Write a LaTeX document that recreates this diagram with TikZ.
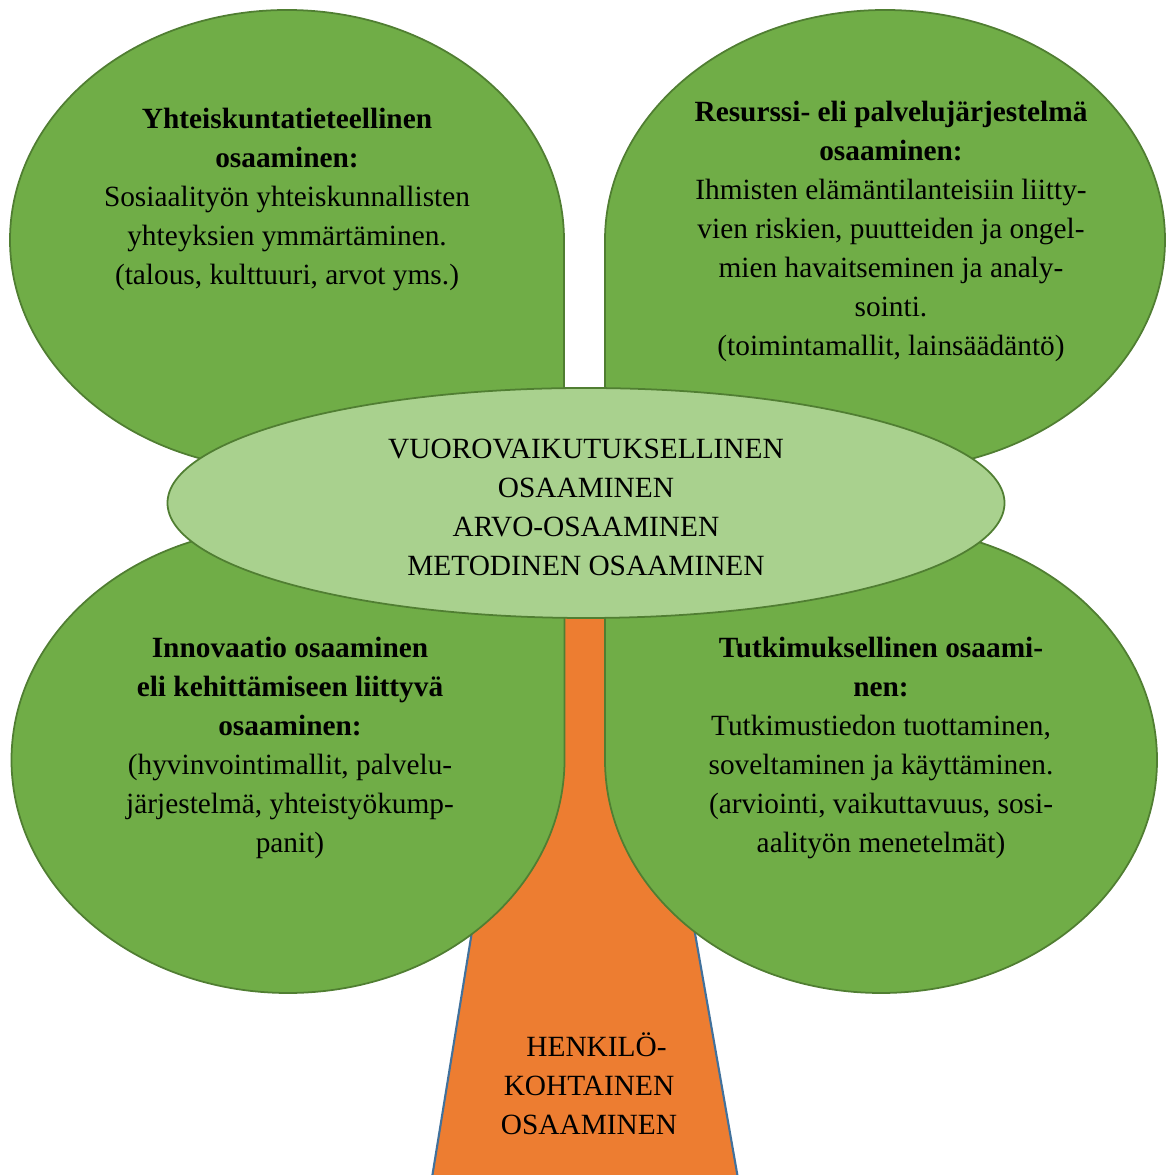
\documentclass[tikz,border=0pt]{standalone}
\usepackage{fontspec}
\setmainfont{Liberation Serif}
\usetikzlibrary{shapes.geometric}

\definecolor{leafgreen}{HTML}{70AD47}
\definecolor{leafedge}{HTML}{507E32}
\definecolor{coregreen}{HTML}{A9D18E}
\definecolor{barkorange}{HTML}{ED7D31}
\definecolor{barkedge}{HTML}{41719C}

\tikzset{
  leaf/.style  = {fill=leafgreen, draw=leafedge, line width=1pt},
  trunk/.style = {fill=barkorange, draw=barkedge, line width=1.2pt},
  core/.style  = {ellipse, fill=coregreen, draw=leafedge, line width=1pt,
                  minimum width=16.74cm, minimum height=4.6cm, inner sep=0pt,
                  align=center, font=\fontsize{16.7}{22.2}\selectfont},
  txt/.style   = {align=center, inner sep=0pt, font=\fontsize{16.7}{22.2}\selectfont}
}

\begin{document}
\begin{tikzpicture}
    \useasboundingbox (0,0) rectangle (23.34,23.5);

    % trunk, partly hidden behind the leaves
    \draw[trunk] (8.60,-0.3) -- (10.84,13.5) -- (12.38,13.5) -- (14.80,-0.3) -- cycle;

    % the four leaves, each with a square corner towards the middle
    \draw[leaf] (11.28,18.70) arc[start angle=0, end angle=270, x radius=5.54cm, y radius=4.6cm]
        -- (11.28,14.10) -- cycle;
    \draw[leaf] (17.70,14.10) arc[start angle=-90, end angle=180, x radius=5.6cm, y radius=4.6cm]
        -- (12.10,14.10) -- cycle;
    \draw[leaf] (5.76,12.96) arc[start angle=90, end angle=360, x radius=5.53cm, y radius=4.66cm]
        -- (11.29,12.96) -- cycle;
    \draw[leaf] (12.10,8.30) arc[start angle=180, end angle=450, x radius=5.52cm, y radius=4.66cm]
        -- (12.10,12.96) -- cycle;

    \node[txt] (yht) at (5.74,19.51) {\textbf{Yhteiskuntatieteellinen}\\ \textbf{osaaminen:}\\
        Sosiaalityön yhteiskunnallisten\\ yhteyksien ymmärtäminen.\\ (talous, kulttuuri, arvot yms.)};
    \node[txt] (res) at (17.82,18.87) {\textbf{Resurssi- eli palvelujärjestelmä}\\ \textbf{osaaminen:}\\
        Ihmisten elämäntilanteisiin liitty-\\ vien riskien, puutteiden ja ongel-\\
        mien havaitseminen ja analy-\\ sointi.\\ (toimintamallit, lainsäädäntö)};
    \node[txt] (inn) at (5.80,8.54) {\textbf{Innovaatio osaaminen}\\ \textbf{eli kehittämiseen liittyvä}\\
        \textbf{osaaminen:}\\ (hyvinvointimallit, palvelu-\\ järjestelmä, yhteistyökump-\\ panit)};
    \node[txt] (tut) at (17.62,8.54) {\textbf{Tutkimuksellinen osaami-}\\ \textbf{nen:}\\
        Tutkimustiedon tuottaminen,\\ soveltaminen ja käyttäminen.\\
        (arviointi, vaikuttavuus, sosi-\\ aalityön menetelmät)};

    % centre of the crown
    \node[core] (core) at (11.72,13.44) {\\[-0.2cm] VUOROVAIKUTUKSELLINEN\\ OSAAMINEN\\
        ARVO-OSAAMINEN\\ METODINEN OSAAMINEN};

    \node[txt] (hlo) at (11.78,1.82) {\hspace*{0.3cm}HENKILÖ-\\ KOHTAINEN\\ OSAAMINEN};
\end{tikzpicture}
\end{document}
